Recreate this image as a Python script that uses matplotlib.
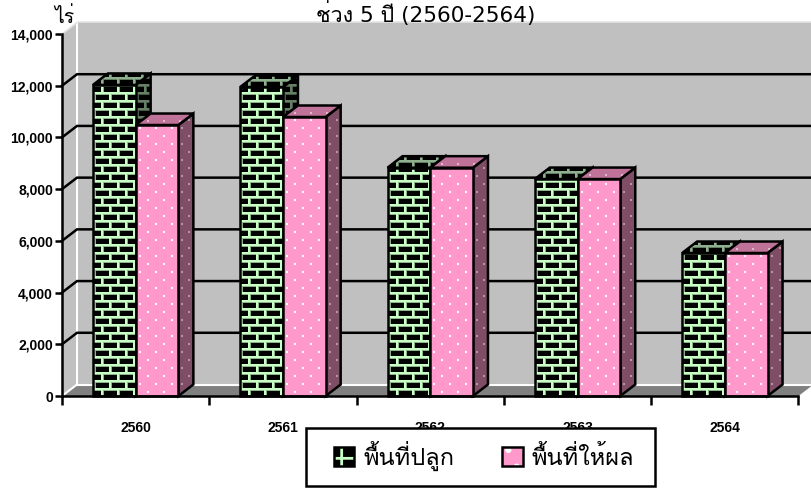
#!/usr/bin/env python3
"""Planted and harvested area, 3D-look clustered bars drawn on plain 2D axes."""

import numpy as np
import matplotlib
matplotlib.use("Agg")
import matplotlib.pyplot as plt
from matplotlib import font_manager as fm
from matplotlib.ft2font import FT2Font
from matplotlib.legend_handler import HandlerBase
from matplotlib.patches import Patch, Polygon, Rectangle

years = ["2560", "2561", "2562", "2563", "2564"]
planted = [12030, 11950, 8830, 8390, 5530]
harvested = [10480, 10790, 8830, 8390, 5530]
y_ticks = [0, 2000, 4000, 6000, 8000, 10000, 12000, 14000]
title_text = "ช่วง 5 ปี (2560-2564)"
unit_text = "ไร่"
legend_labels = ["พื้นที่ปลูก", "พื้นที่ให้ผล"]

W, H = 812, 488
LEFT, RIGHT, TOP, BOTTOM = 62, 812, 34, 396
CAT_PX = 147.3
PX_PER_UNIT = (BOTTOM - TOP) / 14000
DX = 15 / CAT_PX
DY = 11.5 / PX_PER_UNIT
BAR_W = 0.29
EDGE = 1.8

plt.rcParams["hatch.linewidth"] = 2.0


def find_thai_font():
    for f in fm.fontManager.ttflist:
        try:
            if 0x0E1E in FT2Font(f.fname).get_charmap():
                return f.name
        except Exception:
            pass
    return "DejaVu Sans"


thai_font = find_thai_font()


def brick_tile(mortar):
    m = np.array(matplotlib.colors.to_rgb(mortar))
    tile = np.zeros((16, 16, 3))
    # soft third pixel row/column mimics the blur of the source picture
    tile[2, :] = m * 0.7
    tile[10, :] = m * 0.7
    tile[3:8, 2] = m * 0.7
    tile[11:16, 10] = m * 0.7
    tile[0:2, :] = m
    tile[8:10, :] = m
    tile[2:8, 0:2] = m
    tile[10:16, 8:10] = m
    return tile


def dot_tile(base, dot):
    tile = np.ones((16, 16, 3)) * matplotlib.colors.to_rgb(base)
    tile[3:5, 3:5] = matplotlib.colors.to_rgb(dot)
    tile[11:13, 11:13] = matplotlib.colors.to_rgb(dot)
    return tile


BRICK_FRONT = brick_tile("#C8FFC4")
BRICK_SIDE = brick_tile("#668066")
BRICK_TOP = brick_tile("#8FB08F")
DOT_FRONT = dot_tile("#FF99CC", "#FFFFFF")
DOT_SIDE = dot_tile("#804D66", "#B09AA6")
DOT_TOP = dot_tile("#C07399", "#E0B8CC")

fig = plt.figure(figsize=(W / 100, H / 100), dpi=100, facecolor="white")
ax = fig.add_axes([LEFT / W, 1 - BOTTOM / H, (RIGHT - LEFT) / W, (BOTTOM - TOP) / H])
ax.patch.set_visible(False)

x_min, x_max = -0.5, -0.5 + (RIGHT - LEFT) / CAT_PX
x_end = len(years) - 0.5


def poly(points, z, fc="none", ec="none", lw=0):
    p = Polygon(points, closed=True, facecolor=fc, edgecolor=ec, linewidth=lw,
                zorder=z, clip_on=False, joinstyle="miter")
    ax.add_patch(p)
    return p


def textured(points, tile, z):
    """Fill a polygon with a pixel tile, then outline it."""
    pts = np.array(points)
    x0, x1 = pts[:, 0].min(), pts[:, 0].max()
    y0, y1 = pts[:, 1].min(), pts[:, 1].max()
    nx = int(np.ceil((x1 - x0) * CAT_PX))
    ny = int(np.ceil((y1 - y0) * PX_PER_UNIT))
    reps = (ny // 16 + 1, nx // 16 + 1, 1)
    # bottom-aligned rows so the pattern sits on the floor line
    img = np.tile(tile, reps)[-max(ny, 1):, :max(nx, 1)]
    im = ax.imshow(img, extent=[x0, x1, y0, y1], origin="upper", aspect="auto",
                   interpolation="nearest", zorder=z, clip_on=True)
    clip = Polygon(points, closed=True, transform=ax.transData)
    im.set_clip_path(clip)
    poly(points, z + 0.1, ec="black", lw=EDGE)


def draw_bar(x, value, front, side, top, z):
    face = [(x, 0), (x + BAR_W, 0), (x + BAR_W, value), (x, value)]
    right = [(x + BAR_W, 0), (x + BAR_W + DX, DY),
             (x + BAR_W + DX, value + DY), (x + BAR_W, value)]
    cap = [(x, value), (x + BAR_W, value),
           (x + BAR_W + DX, value + DY), (x + DX, value + DY)]
    textured(right, side, z)
    textured(cap, top, z + 0.2)
    textured(face, front, z + 0.4)


# walls and floor
poly([(x_min + DX, DY), (x_max, DY), (x_max, 14000 + DY), (x_min + DX, 14000 + DY)], 1, fc="#C0C0C0")
poly([(x_min, 0), (x_min + DX, DY), (x_min + DX, 14000 + DY), (x_min, 14000)], 1, fc="#C0C0C0")
poly([(x_min, 0), (x_end, 0), (x_end + DX, DY), (x_min + DX, DY)], 1, fc="#808080")
ax.plot([x_min + DX, x_max], [14000 + DY] * 2, color="#E4E4E4", lw=1.2, zorder=2, clip_on=False)
ax.plot([x_min + DX, x_min + DX], [DY, 14000 + DY], color="white", lw=1.5, zorder=2, clip_on=False)
ax.plot([x_min + DX, x_end + DX], [DY, DY], color="white", lw=1.5, zorder=2, clip_on=False)
ax.plot([x_min, x_min + DX], [0, DY], color="white", lw=1.5, zorder=2, clip_on=False)
ax.plot([x_min, x_min + DX], [14000, 14000 + DY], color="#E4E4E4", lw=1.2, zorder=2, clip_on=False)

# gridlines run along the back wall and step down the side wall
for v in y_ticks[1:-1]:
    ax.plot([x_min, x_min + DX, x_max], [v, v + DY, v + DY], color="black", lw=EDGE,
            zorder=3, clip_on=False, solid_joinstyle="miter")

z = 10
for i in range(len(years)):
    draw_bar(i - BAR_W, planted[i], BRICK_FRONT, BRICK_SIDE, BRICK_TOP, z)
    draw_bar(i, harvested[i], DOT_FRONT, DOT_SIDE, DOT_TOP, z + 1)
    z += 2

ax.set_xlim(x_min, x_max)
ax.set_ylim(0, 14000)
for s in ("top", "right"):
    ax.spines[s].set_visible(False)
ax.spines["left"].set_linewidth(EDGE)
ax.spines["bottom"].set_linewidth(EDGE)
ax.spines["bottom"].set_bounds(x_min, x_end)
ax.spines["left"].set_zorder(40)
ax.spines["bottom"].set_zorder(40)

ax.set_yticks(y_ticks)
ax.set_yticklabels([f"{v:,}" for v in y_ticks], fontfamily="Liberation Sans",
                   fontweight="bold", fontsize=10)
ax.tick_params(axis="y", length=5, width=EDGE, pad=1.5)
ax.set_xticks(np.arange(len(years) + 1) - 0.5)
ax.set_xticklabels([])
ax.tick_params(axis="x", which="major", length=6.5, width=EDGE)
ax.set_xticks(np.arange(len(years)), minor=True)
ax.set_xticklabels(years, minor=True, fontfamily="Liberation Sans", fontweight="bold", fontsize=10)
ax.tick_params(axis="x", which="minor", length=0, pad=18)

fig.text(426 / W, 1 - 22 / H, title_text, family=["DejaVu Sans", thai_font], fontsize=15.5,
         ha="center", va="baseline", zorder=45)
fig.text(64 / W, 1 - 23 / H, unit_text, family=[thai_font, "DejaVu Sans"], fontsize=14,
         ha="center", va="baseline")


class SwatchHandler(HandlerBase):
    def __init__(self, fill, hatch_color, hatch):
        super().__init__()
        self.fill, self.hatch_color, self.hatch = fill, hatch_color, hatch

    def create_artists(self, legend, orig, xd, yd, w, h, fontsize, trans):
        xy, kw = (-xd, -yd), dict(width=w, height=h, transform=trans)
        return [
            Rectangle(xy, facecolor=self.fill, edgecolor="none", **kw),
            Rectangle(xy, facecolor="none", edgecolor=self.hatch_color, hatch=self.hatch, lw=0, **kw),
            Rectangle(xy, facecolor="none", edgecolor="black", lw=EDGE, **kw),
        ]


# the frame is its own rectangle because the box has wider side margins than a legend pad allows
fig.add_artist(Rectangle((306 / W, 1 - 486 / H), 349 / W, 58 / H, transform=fig.transFigure,
                         facecolor="white", edgecolor="black", linewidth=EDGE, zorder=45))

handles = [Patch(label=legend_labels[0]), Patch(label=legend_labels[1])]
leg = fig.legend(
    handles=handles,
    handler_map={
        handles[0]: SwatchHandler("black", "#C8FFC4", "+"),
        handles[1]: SwatchHandler("#FF99CC", "white", "."),
    },
    loc="center left",
    bbox_to_anchor=(334 / W, 1 - 456 / H),
    ncols=2, frameon=False, prop={"family": [thai_font, "DejaVu Sans"], "size": 17},
    handlelength=0.85, handleheight=0.85, borderaxespad=0, borderpad=0,
    columnspacing=2.05, handletextpad=0.38,
)
leg.set_zorder(50)

fig.savefig("out.png", dpi=100, facecolor="white")
